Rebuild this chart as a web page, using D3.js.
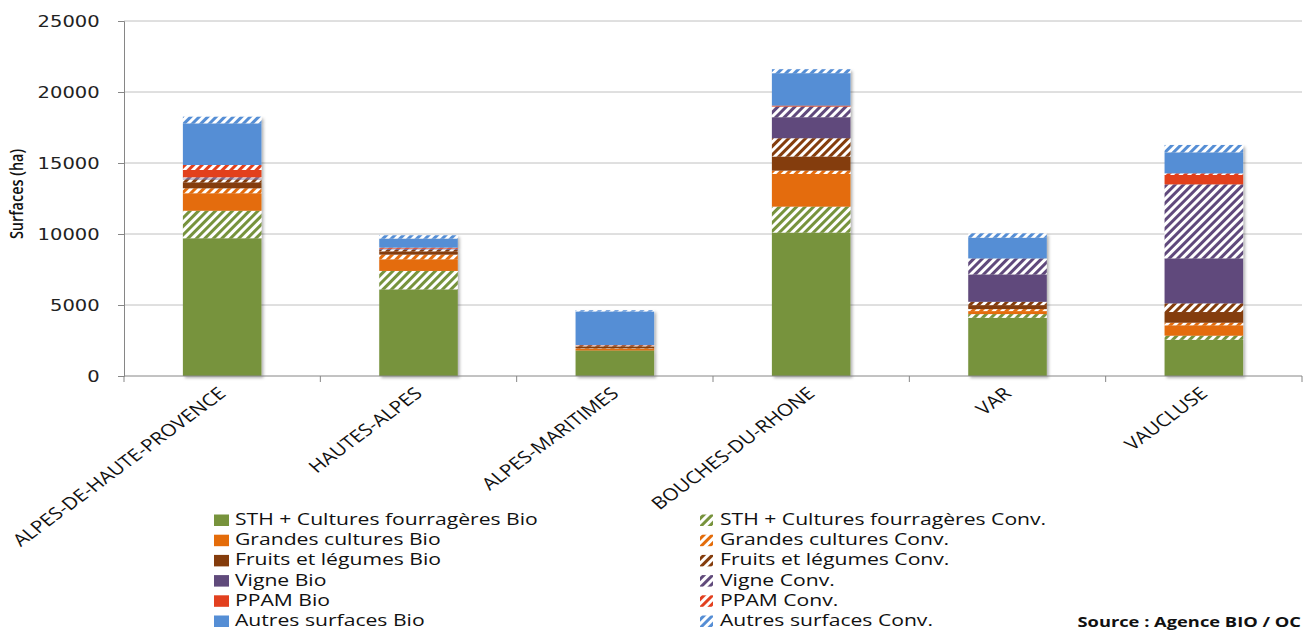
<!DOCTYPE html>
<html>
<head>
<meta charset="utf-8">
<script src="https://cdn.jsdelivr.net/npm/d3@7"></script>
<style>
  body { margin: 0; background: #fff; }
  svg { display: block; }
</style>
</head>
<body>
<script>
const width = 1306, height = 631;
const margin = {top: 21, right: 4, bottom: 255, left: 124};

const categories = ['ALPES-DE-HAUTE-PROVENCE', 'HAUTES-ALPES', 'ALPES-MARITIMES', 'BOUCHES-DU-RHONE', 'VAR', 'VAUCLUSE'];

// surfaces in ha, one value per département
const sthBio     = [9700, 6100, 1800, 10100, 4100, 2550];
const sthConv    = [1940, 1300, 0, 1830, 260, 290];
const gcBio      = [1230, 820, 120, 2300, 210, 730];
const gcConv     = [350, 330, 30, 235, 140, 185];
const flBio      = [420, 230, 140, 990, 280, 750];
const flConv     = [210, 100, 70, 1290, 235, 610];
const vigneBio   = [60, 30, 0, 1480, 1930, 3170];
const vigneConv  = [80, 40, 0, 750, 1125, 5210];
const ppamBio    = [520, 50, 20, 70, 0, 660];
const ppamConv   = [350, 40, 0, 0, 0, 115];
const autresBio  = [2930, 640, 2370, 2280, 1460, 1480];
const autresConv = [470, 230, 80, 280, 305, 520];

const seriesNames = [
  'STH + Cultures fourragères Bio', 'STH + Cultures fourragères Conv.',
  'Grandes cultures Bio', 'Grandes cultures Conv.',
  'Fruits et légumes Bio', 'Fruits et légumes Conv.',
  'Vigne Bio', 'Vigne Conv.',
  'PPAM Bio', 'PPAM Conv.',
  'Autres surfaces Bio', 'Autres surfaces Conv.'
];
const seriesValues = [sthBio, sthConv, gcBio, gcConv, flBio, flConv, vigneBio, vigneConv, ppamBio, ppamConv, autresBio, autresConv];
const yTicks = [0, 5000, 10000, 15000, 20000, 25000];

const baseColors = ['#77933C', '#E46C0A', '#843C0C', '#604A7B', '#E2401F', '#558ED5'];

// the original picture is stretched sideways, so text gets the same stretch
const stretch = 1.22;

const table = categories.map((c, i) => {
  const row = {cat: c};
  seriesNames.forEach((s, j) => row[s] = seriesValues[j][i]);
  return row;
});
const stacked = d3.stack().keys(seriesNames)(table);

const svg = d3.select('body').append('svg').attr('width', width).attr('height', height);
const defs = svg.append('defs');

baseColors.forEach((c, i) => {
  const p = defs.append('pattern')
    .attr('id', 'hatch' + i)
    .attr('patternUnits', 'userSpaceOnUse')
    .attr('width', 6).attr('height', 6)
    .attr('patternTransform', 'rotate(45)');
  p.append('rect').attr('width', 6).attr('height', 6).attr('fill', '#fff');
  p.append('rect').attr('width', 3).attr('height', 6).attr('fill', c);
});

const shadow = defs.append('filter').attr('id', 'shadow')
  .attr('x', '-10%').attr('y', '-10%').attr('width', '130%').attr('height', '130%');
shadow.append('feDropShadow').attr('dx', 2).attr('dy', 2).attr('stdDeviation', 1.5)
  .attr('flood-color', '#000').attr('flood-opacity', 0.3);

const fillFor = (i) => i % 2 === 0 ? baseColors[i >> 1] : `url(#hatch${i >> 1})`;

const x = d3.scaleBand().domain(categories)
  .range([margin.left, width - margin.right])
  .paddingInner(0.6).paddingOuter(0.3);
const y = d3.scaleLinear().domain([0, 25000]).range([height - margin.bottom, margin.top]);

// gridlines
svg.append('g').selectAll('line').data(yTicks.slice(1)).enter().append('line')
  .attr('x1', margin.left).attr('x2', width - margin.right)
  .attr('y1', d => y(d)).attr('y2', d => y(d))
  .attr('stroke', '#c0c0c0').attr('stroke-width', 1);

// bars
const barGroups = svg.append('g').selectAll('g.bar')
  .data(categories).enter().append('g')
  .attr('class', 'bar')
  .attr('filter', 'url(#shadow)');

barGroups.each(function(cat, ci) {
  d3.select(this).selectAll('rect')
    .data(stacked.map((s, si) => ({si, lo: s[ci][0], hi: s[ci][1]})).filter(d => d.hi > d.lo))
    .enter().append('rect')
    .attr('x', x(cat))
    .attr('width', x.bandwidth())
    .attr('y', d => y(d.hi))
    .attr('height', d => y(d.lo) - y(d.hi))
    .attr('fill', d => fillFor(d.si));
});

// y axis
const yAxis = svg.append('g')
  .attr('transform', `translate(${margin.left},0)`)
  .call(d3.axisLeft(y).tickValues(yTicks).tickSize(6).tickPadding(14).tickFormat(d3.format('d')));
yAxis.select('.domain').attr('stroke', '#868686');
yAxis.selectAll('.tick line').attr('stroke', '#868686');
yAxis.selectAll('.tick text')
  .attr('transform', `scale(${stretch},1)`)
  .attr('font-family', 'DejaVu Sans, Verdana, sans-serif')
  .attr('font-size', 16).attr('fill', '#222');

// x axis with separator ticks
const step = x.step();
const xAxis = svg.append('g').attr('transform', `translate(0,${y(0)})`);
xAxis.append('line')
  .attr('x1', margin.left).attr('x2', width - margin.right)
  .attr('stroke', '#868686');
xAxis.selectAll('line.sep').data(d3.range(categories.length + 1)).enter().append('line')
  .attr('class', 'sep')
  .attr('x1', i => margin.left + i * step).attr('x2', i => margin.left + i * step)
  .attr('y1', 0).attr('y2', 6)
  .attr('stroke', '#868686');

xAxis.selectAll('text.cat').data(categories).enter().append('text')
  .attr('class', 'cat')
  .attr('transform', d => `translate(${x(d) + x.bandwidth() / 2 + 5},${19}) scale(${stretch},1) rotate(-42)`)
  .attr('text-anchor', 'end')
  .attr('font-family', 'Open Sans, sans-serif')
  .attr('font-size', 17)
  .attr('fill', '#111')
  .text(d => d);

// y label
svg.append('text')
  .attr('transform', `translate(23,${194}) scale(${stretch},1) rotate(-90)`)
  .attr('text-anchor', 'middle')
  .attr('font-family', 'Open Sans, sans-serif')
  .attr('font-size', 14.5)
  .attr('font-weight', 600)
  .attr('fill', '#111')
  .text('Surfaces (ha)');

// legend
const legendItems = svg.append('g').selectAll('g.item').data(seriesNames).enter().append('g')
  .attr('class', 'item')
  .attr('transform', (d, i) => `translate(${i % 2 === 0 ? 214 : 700},${525 + (i >> 1) * 20.2})`);
legendItems.append('rect')
  .attr('y', -10.5)
  .attr('width', (d, i) => i % 2 === 0 ? 15 : 13).attr('height', 11.5)
  .attr('fill', (d, i) => fillFor(i));
legendItems.append('text')
  .attr('transform', (d, i) => `translate(${i % 2 === 0 ? 21 : 20},0) scale(1.28,1)`)
  .attr('font-family', 'Open Sans, sans-serif')
  .attr('font-size', 16.5)
  .attr('fill', '#111')
  .text(d => d);

svg.append('text')
  .attr('transform', `translate(${width - 5},627) scale(${stretch},1)`)
  .attr('text-anchor', 'end')
  .attr('font-family', 'Open Sans, sans-serif')
  .attr('font-size', 15)
  .attr('font-weight', 700)
  .attr('fill', '#111')
  .text('Source : Agence BIO / OC');
</script>
</body>
</html>
